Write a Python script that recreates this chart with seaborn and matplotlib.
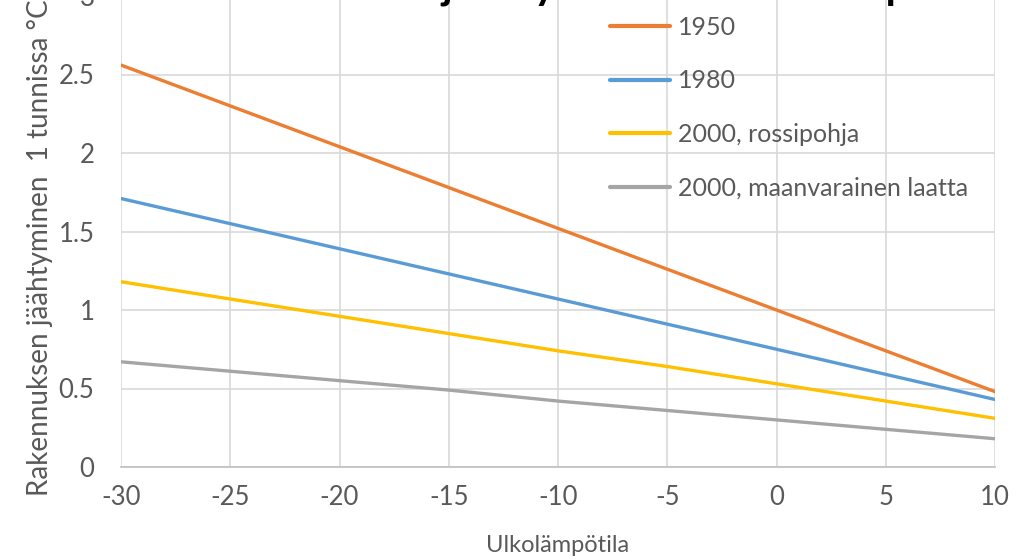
import matplotlib
matplotlib.use("Agg")
import matplotlib.pyplot as plt
import pandas as pd
import seaborn as sns
import numpy as np

# ---------------------------------------------------------------------
# Data (cooling of building in 1 hour vs outdoor temp)
ulkolampotila = [-30, -25, -20, -15, -10, -5, 0, 5, 10]
v1950 = [2.56, 2.30, 2.04, 1.78, 1.52, 1.26, 1.00, 0.74, 0.48]
v1980 = [1.71, 1.55, 1.39, 1.23, 1.07, 0.91, 0.75, 0.59, 0.43]
v2000_rossi = [1.18, 1.07, 0.96, 0.85, 0.74, 0.64, 0.53, 0.42, 0.31]
v2000_maan = [0.67, 0.61, 0.55, 0.49, 0.42, 0.36, 0.30, 0.24, 0.18]
sarjat = ['1950', '1980', '2000, rossipohja', '2000, maanvarainen laatta']
x_ticks = [-30, -25, -20, -15, -10, -5, 0, 5, 10]
y_ticks = [0, 0.5, 1, 1.5, 2, 2.5, 3]
y_ticklabels = ['0', '0.5', '1', '1.5', '2', '2.5', '3']

df = pd.DataFrame({
    'Ulkolämpötila': ulkolampotila * 4,
    'arvo': v1950 + v1980 + v2000_rossi + v2000_maan,
    'sarja': [s for s in sarjat for _ in ulkolampotila],
})

# ---------------------------------------------------------------------
sns.set_style('white')
plt.rcParams['font.family'] = ['Lato', 'DejaVu Sans']
txt = '#595959'

fig = plt.figure(figsize=(10.28, 5.6), dpi=100)
ax = fig.add_axes([121 / 1028, 93 / 560, 874 / 1028, 471 / 560])

colors = ['#ED7D31', '#5B9BD5', '#FFC000', '#A5A5A5']
sns.lineplot(data=df, x='Ulkolämpötila', y='arvo', hue='sarja',
             palette=colors, linewidth=2.4, ax=ax, legend=True)

ax.set_xlim(-30, 10)
ax.set_ylim(0, 3)
ax.set_xticks(x_ticks)
ax.set_xticklabels([str(t) for t in x_ticks])
ax.set_yticks(y_ticks)
ax.set_yticklabels(y_ticklabels)
ax.grid(True, color='#d9d9d9', linewidth=1.2)
ax.set_axisbelow(True)
for s in ['top', 'right', 'left']:
    ax.spines[s].set_visible(False)
ax.spines['bottom'].set_color('#bfbfbf')
ax.spines['bottom'].set_linewidth(1.2)
ax.tick_params(axis='both', length=0, labelsize=18.5, colors=txt)
ax.tick_params(axis='x', pad=13)
ax.tick_params(axis='y', pad=19)
ax.set_xlabel('')
ax.set_ylabel('')

fig.text(558 / 1028, 15 / 560, 'Ulkolämpötila', ha='center', va='center',
         fontsize=17, color=txt)
fig.text(40 / 1028, 1 - 248 / 560, 'Rakennuksen jäähtyminen  1 tunnissa °C',
         rotation=90, ha='center', va='center', fontsize=20, color=txt)

# title, mostly above the visible area
fig.text(183 / 1028, 1 + 1 / 560, 'Rakennuksen jäähtyminen eri ulkolämpötiloilla',
         ha='left', va='baseline', fontsize=30, fontweight='bold', color='black')

leg = ax.legend(loc='upper left', bbox_to_anchor=(610 / 1028, 1 - 16 / 560),
                bbox_transform=fig.transFigure, frameon=False, fontsize=18,
                handlelength=2.4, handletextpad=0.3, labelspacing=1.22,
                borderpad=0, borderaxespad=0)
for t in leg.get_texts():
    t.set_color(txt)
for l in leg.get_lines():
    l.set_linewidth(3)

fig.savefig('out.png', dpi=100)
